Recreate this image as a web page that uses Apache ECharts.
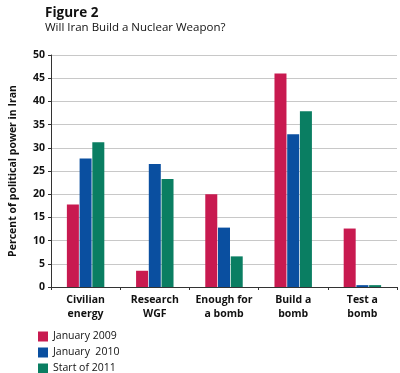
<!DOCTYPE html>
<html><head><meta charset="utf-8">
<script src="https://cdn.jsdelivr.net/npm/echarts@6/dist/echarts.min.js"></script>
<style>html,body{margin:0;padding:0;background:#fff}#c{width:400px;height:373px}</style>
</head><body><div id="c"></div>
<script>
const categories = ["Civilian\nenergy", "Research\nWGF", "Enough for\na bomb", "Build a\nbomb", "Test a\nbomb"];
const seriesNames = ["January 2009", "January  2010", "Start of 2011"];
const jan2009 = [17.8, 3.5, 20.0, 46.0, 12.6];
const jan2010 = [27.7, 26.5, 12.8, 32.9, 0.4];
const start2011 = [31.2, 23.3, 6.6, 37.9, 0.4];
const yTicks = [0, 5, 10, 15, 20, 25, 30, 35, 40, 45, 50];
const colors = ["#c81a50", "#0a4fa0", "#0a7e62"];
const font = "Open Sans";
const chart = echarts.init(document.getElementById('c'), null, {renderer: 'canvas'});
const mk = (name, data, i) => ({
  name, type: 'bar', data, barWidth: 12, barGap: '6%',
  itemStyle: {color: colors[i]}
});
chart.setOption({
  animation: false,
  textStyle: {fontFamily: font},
  title: [
    {text: "Figure 2", left: 40, top: 1, textStyle: {fontFamily: font, fontSize: 13.5, fontWeight: 'bold', color: '#111'}},
    {text: "Will Iran Build a Nuclear Weapon?", left: 40, top: 17, textStyle: {fontFamily: font, fontSize: 11.5, fontWeight: 'normal', color: '#111'}}
  ],
  grid: {left: 41, right: 3, top: 55, bottom: 86, containLabel: false},
  legend: {
    orient: 'vertical', left: 38, top: 331, width: 200, height: 60, itemWidth: 10, itemHeight: 10, itemGap: 5,
    icon: 'rect', data: seriesNames, padding: 0,
    textStyle: {fontFamily: font, fontSize: 10.5, color: '#111'}
  },
  xAxis: {
    type: 'category', data: categories,
    axisLine: {lineStyle: {color: '#333', width: 1}},
    axisTick: {show: true, alignWithLabel: false, interval: 0, length: 3, lineStyle: {color: '#333'}},
    axisLabel: {interval: 0, fontFamily: font, fontSize: 10.5, fontWeight: 'bold', color: '#111', lineHeight: 14, margin: 6}
  },
  yAxis: {
    type: 'value', min: 0, max: 50, interval: 5,
    name: "Percent of political power in Iran", nameLocation: 'middle', nameGap: 32,
    nameTextStyle: {fontFamily: font, fontSize: 10.5, fontWeight: 'bold', color: '#111'},
    axisLine: {show: true, lineStyle: {color: '#333'}},
    axisTick: {show: true, length: 3, lineStyle: {color: '#333'}},
    axisLabel: {fontFamily: font, fontSize: 10.5, fontWeight: 'bold', color: '#111', margin: 6,
      formatter: v => yTicks.includes(v) ? String(v) : ''},
    splitLine: {show: true, lineStyle: {color: '#c8c8c8', width: 1}}
  },
  series: [mk(seriesNames[0], jan2009, 0), mk(seriesNames[1], jan2010, 1), mk(seriesNames[2], start2011, 2)]
});
</script></body></html>
